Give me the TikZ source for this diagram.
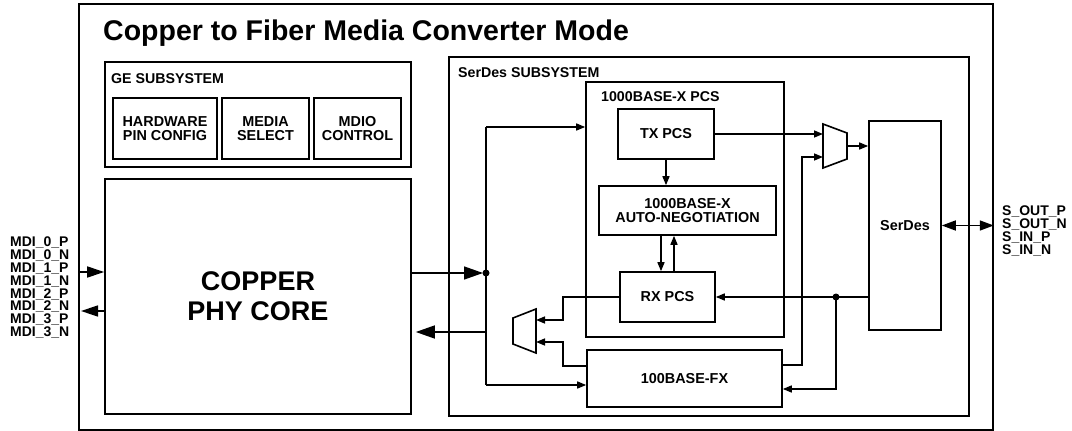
\documentclass[tikz,border=0pt]{standalone}
\usepackage{fontspec}
\setmainfont{Liberation Sans}
\usetikzlibrary{arrows.meta, positioning, calc}
\tikzset{
  blk/.style={rectangle, draw=black, line width=1.6pt, inner sep=0pt, align=center, font=\bfseries\fontsize{14.4}{13.8}\selectfont},
  boxlabel/.style={anchor=base west, inner sep=0pt, font=\bfseries\fontsize{14.2}{14}\selectfont},
  pins/.style={anchor=north west, inner sep=0pt, align=left, font=\bfseries\fontsize{14}{12.8}\selectfont},
  wire/.style={line width=1.5pt},
  arrow/.style={-{Triangle[length=9pt,width=7pt]}, line width=1.5pt},
  bigarrow/.style={-{Triangle[length=19pt,width=13pt]}, line width=1.5pt},
  pinarrow/.style={-{Triangle[length=17pt,width=11pt]}, line width=1.5pt},
  botharrow/.style={{Triangle[length=14pt,width=10pt]}-{Triangle[length=14pt,width=10pt]}, line width=1.5pt},
  mux/.style={line width=1.6pt, line join=miter},
}
\begin{document}
\begin{tikzpicture}[x=1pt, y=-1pt]
\useasboundingbox (0,0) rectangle (1072,431);
\node[blk, minimum width=914pt, minimum height=426pt] (conv) at (536,217) {};
\node[anchor=base west, inner sep=0pt, font=\bfseries\fontsize{28.5}{30}\selectfont] (ttl) at (103,41) {Copper to Fiber Media Converter Mode};

\node[blk, minimum width=306pt, minimum height=105pt] (ge) at (258,114.5) {};
\node[boxlabel] (gelbl) at (111,83.5) {GE SUBSYSTEM};
\node[blk, minimum width=104pt, minimum height=61pt] (hw) at (165,128.5) {HARDWARE\\PIN CONFIG};
\node[blk, minimum width=87pt, minimum height=61pt, right=3.4pt of hw] (media) {MEDIA\\SELECT};
\node[blk, minimum width=87pt, minimum height=61pt, right=3.4pt of media] (mdio) {MDIO\\CONTROL};
\node[blk, minimum width=306pt, minimum height=235pt, font=\bfseries\fontsize{27}{30}\selectfont] (core) at (258,296.5) {COPPER\\PHY CORE};

\node[blk, minimum width=520pt, minimum height=359pt] (sub) at (709,236.5) {};
\node[boxlabel] (sublbl) at (458,77.5) {SerDes SUBSYSTEM};
\node[blk, minimum width=198pt, minimum height=255pt] (pcs) at (685,209.5) {};
\node[boxlabel] (pcslbl) at (601,101) {1000BASE-X PCS};
\node[blk, minimum width=96pt, minimum height=50pt] (tx) at (666,134) {TX PCS};
\node[blk, minimum width=177pt, minimum height=49pt] (an) at (687.5,210.5) {1000BASE-X\\AUTO-NEGOTIATION};
\node[blk, minimum width=95pt, minimum height=50pt] (rx) at (667.5,297) {RX PCS};
\node[blk, minimum width=195pt, minimum height=57pt] (fx) at (684.5,378.5) {100BASE-FX};
\node[blk, minimum width=72pt, minimum height=209pt] (serdes) at (905,225.5) {SerDes};

\node[pins] (mdi) at (10,237) {MDI\_0\_P\\MDI\_0\_N\\MDI\_1\_P\\MDI\_1\_N\\MDI\_2\_P\\MDI\_2\_N\\MDI\_3\_P\\MDI\_3\_N};
\node[pins] (sio) at (1002,206) {S\_OUT\_P\\S\_OUT\_N\\S\_IN\_P\\S\_IN\_N};

\draw[mux] (823,124) -- (847,133) -- (847,159) -- (823,168) -- cycle;
\draw[mux] (536,309) -- (513,318) -- (513,344) -- (536,353) -- cycle;
\coordinate (txmuxa) at (823,134);
\coordinate (txmuxb) at (823,157);
\coordinate (txmuxo) at (847,146);
\coordinate (rxmuxa) at (536,320);
\coordinate (rxmuxb) at (536,342);
\coordinate (txsplit) at (486,273);
\coordinate (rxsplit) at (836,297);
\coordinate (pcsin) at (486,127);
\coordinate (fxin) at (486,385);
\coordinate (cuin) at (486,332);
\coordinate (mdiin) at (79,272);
\coordinate (mdiout) at (81,311);

\draw[pinarrow] (mdiin) -- (mdiin -| core.west);
\draw[pinarrow] (mdiout -| core.west) -- (mdiout);
\draw[bigarrow, shorten >=3pt] (txsplit -| core.east) -- (txsplit);
\draw[bigarrow, shorten >=4pt] (cuin) -- (cuin -| core.east);
\draw[wire] (pcsin) -- (fxin);
\fill (txsplit) circle (3.5pt);
\draw[arrow] (pcsin) -- (pcsin -| pcs.west);
\draw[arrow] (fxin) -- (fxin -| fx.west);

\draw[arrow] (tx.south) -- (tx.south |- an.north);
\draw[arrow] ([xshift=-6.5pt]rx.north |- an.south) -- ([xshift=-6.5pt]rx.north);
\draw[arrow] ([xshift=6.5pt]rx.north) -- ([xshift=6.5pt]rx.north |- an.south);

\draw[arrow] (tx.east) -- (txmuxa);
\draw[arrow] ([yshift=13.5pt]fx.east) -| ([xshift=-21pt]txmuxb) -- (txmuxb);
\draw[arrow] (txmuxo) -- (txmuxo -| serdes.west);
\draw[arrow] (rxsplit -| serdes.west) -- (rx.east);
\fill (rxsplit) circle (3.5pt);
\draw[arrow] (rxsplit) |- ([yshift=-10.5pt]fx.east);

\draw[arrow] (rx.west) -| ([xshift=27pt]rxmuxa) -- (rxmuxa);
\draw[arrow] ([yshift=12.5pt]fx.west) -| ([xshift=27pt]rxmuxb) -- (rxmuxb);

\draw[botharrow] (serdes.east) -- (serdes.east -| conv.east);
\end{tikzpicture}
\end{document}
